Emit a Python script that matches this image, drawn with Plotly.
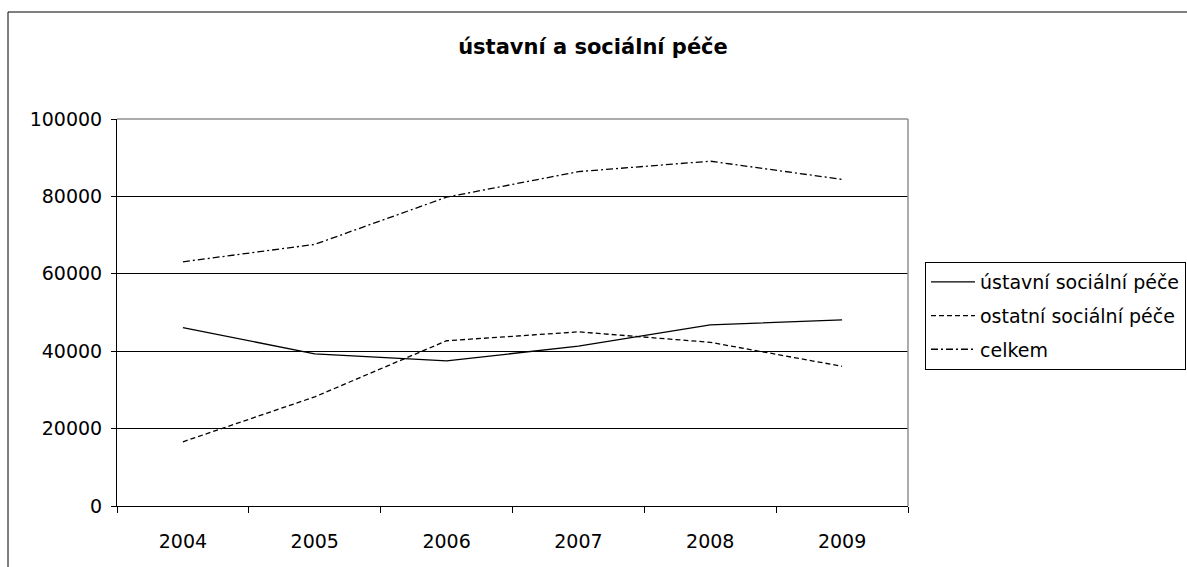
import plotly.graph_objects as go

years = ["2004", "2005", "2006", "2007", "2008", "2009"]
ustavni = [46100, 39300, 37500, 41300, 46800, 48100]
ostatni = [16600, 28200, 42700, 45000, 42300, 36100]
celkem = [63100, 67600, 79800, 86400, 89100, 84400]
y_ticks = [0, 20000, 40000, 60000, 80000, 100000]
y_tick_text = ["0", "20000", "40000", "60000", "80000", "100000"]

W, H = 1187, 567
L, R, T, B = 117, 279, 119, 61
pw, ph = W - L - R, H - T - B

def px_x(p):
    return (p - L) / pw

def px_y(p):
    return (H - B - p) / ph

font = "DejaVu Sans, Verdana, sans-serif"

fig = go.Figure()
fig.add_trace(go.Scatter(x=years, y=ustavni, mode="lines", name="ústavní sociální péče",
                         line=dict(color="black", width=1.3, dash="solid"), legendgroup="a"))
fig.add_trace(go.Scatter(x=years, y=ostatni, mode="lines", name="ostatní sociální péče",
                         line=dict(color="black", width=1.3, dash="5px,3px"), legendgroup="b"))
fig.add_trace(go.Scatter(x=years, y=celkem, mode="lines", name="celkem",
                         line=dict(color="black", width=1.3, dash="7px,3px,2px,3px"), legendgroup="c"))

fig.update_layout(
    width=W, height=H,
    margin=dict(l=L, r=R, t=T, b=B, autoexpand=False),
    paper_bgcolor="white", plot_bgcolor="white",
    font=dict(family=font, size=19, color="black"),
    title=dict(text="<b>ústavní a sociální péče</b>", x=593 / W, xref="container",
               xanchor="center", y=1 - 47 / H, yref="container", yanchor="middle",
               font=dict(family=font, size=21, color="black")),
    showlegend=True,
    legend=dict(x=px_x(925), y=px_y(262), xanchor="left", yanchor="top",
                bordercolor="black", borderwidth=1, bgcolor="white",
                traceorder="grouped", tracegroupgap=6, itemwidth=44,
                font=dict(family=font, size=19, color="black")),
    xaxis=dict(type="category", showgrid=False, showline=True, linecolor="black", linewidth=1,
               ticks="outside", ticklen=6, tickcolor="black", tickson="boundaries",
               ticklabelstandoff=18, range=[-0.5, 5.5], fixedrange=True),
    yaxis=dict(range=[0, 100000], tickvals=y_ticks, ticktext=y_tick_text,
               showgrid=True, gridcolor="black", gridwidth=1,
               zeroline=False, showline=True, linecolor="black", linewidth=1,
               ticks="outside", ticklen=5, tickcolor="black", ticklabelstandoff=5),
)

# plot area border (top/right, gray)
fig.add_shape(type="line", xref="paper", yref="paper", x0=0, x1=1, y0=1, y1=1,
              line=dict(color="#909090", width=1.5), layer="above")
fig.add_shape(type="line", xref="paper", yref="paper", x0=1, x1=1, y0=0, y1=1,
              line=dict(color="#909090", width=1.5), layer="above")
# chart area border
fig.add_shape(type="rect", xref="paper", yref="paper",
              x0=px_x(8), x1=px_x(1200), y0=px_y(580), y1=px_y(12),
              line=dict(color="black", width=1), layer="below")

fig.write_html("out.html")
